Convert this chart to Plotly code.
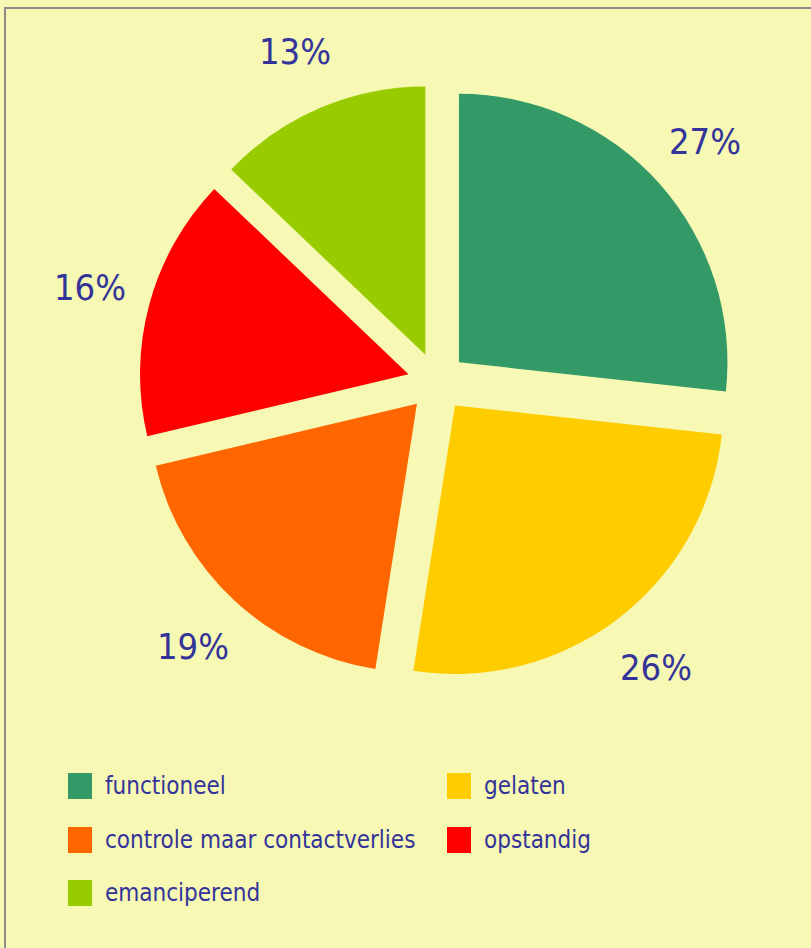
import math
import plotly.graph_objects as go

# Share of each profile (percent)
categories = ["functioneel", "gelaten", "controle maar contactverlies", "opstandig", "emanciperend"]
shares = [27, 26, 19, 16, 13]
colors = ["#339966", "#FFCC00", "#FF6600", "#FF0000", "#99CC00"]

W, H = 811, 948
BG = "#F6F8B4"
INK = "#333399"
FONT = "DejaVu Sans Condensed, DejaVu Sans, sans-serif"

# Pie placement in pixels
cx, cy = 437, 382
outer = 298          # radius incl. pull
pull = 0.11
label_r = 360

fig = go.Figure(
    go.Pie(
        labels=categories,
        values=shares,
        marker=dict(colors=colors, line=dict(width=0)),
        sort=False,
        direction="clockwise",
        rotation=0,
        pull=[pull] * len(shares),
        textinfo="none",
        hoverinfo="label+value",
        showlegend=False,
        domain=dict(
            x=[(cx - outer) / W, (cx + outer) / W],
            y=[1 - (cy + outer) / H, 1 - (cy - outer) / H],
        ),
    )
)

# Percentage labels placed along each slice's mid-angle
annotations = []
total = sum(shares)
acc = 0
for v in shares:
    mid = (acc + v / 2) / total * 2 * math.pi
    acc += v
    px = cx + label_r * math.sin(mid)
    py = cy - label_r * math.cos(mid)
    annotations.append(dict(
        x=px / W, y=1 - py / H, xref="paper", yref="paper",
        text=f"{v}%", showarrow=False, xanchor="center", yanchor="middle",
        font=dict(family=FONT, size=36, color=INK),
    ))

# Two-column legend
shapes = [dict(
    type="rect", xref="paper", yref="paper",
    x0=5 / W, x1=1.02, y0=-0.02, y1=1 - 8 / H,
    line=dict(color="#8C8C8C", width=2), fillcolor="rgba(0,0,0,0)", layer="below",
)]
col_x = [68, 447]
row_y = [786, 840, 893]
sw_w, sw_h = 24, 26
for i, (name, col) in enumerate(zip(categories, colors)):
    lx = col_x[i % 2]
    ly = row_y[i // 2]
    shapes.append(dict(
        type="rect", xref="paper", yref="paper",
        x0=lx / W, x1=(lx + sw_w) / W,
        y0=1 - (ly + sw_h / 2) / H, y1=1 - (ly - sw_h / 2) / H,
        fillcolor=col, line=dict(width=0),
    ))
    annotations.append(dict(
        x=(lx + sw_w + 11) / W, y=1 - ly / H, xref="paper", yref="paper",
        text=name, showarrow=False, xanchor="left", yanchor="middle",
        font=dict(family=FONT, size=24, color=INK),
    ))

fig.update_layout(
    width=W, height=H,
    margin=dict(l=0, r=0, t=0, b=0),
    paper_bgcolor=BG, plot_bgcolor=BG,
    annotations=annotations,
    shapes=shapes,
)

fig.write_html("out.html")
